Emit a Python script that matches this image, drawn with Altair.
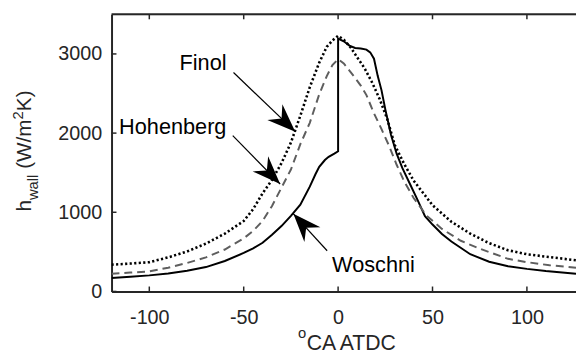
import math
import altair as alt
import pandas as pd

# ---------------- data ----------------
woschni_x = [-120, -110, -100, -90, -80, -70, -60, -50, -45, -40, -35, -30, -25, -20, -15, -12, -10, -7, -5, -2, 0,
             0, 3, 6, 9, 12, 15, 17, 19, 21, 23, 25, 28, 31, 34, 38, 42, 46, 50, 55, 60, 70, 80, 90, 100, 110, 126]
woschni_y = [171, 185, 203, 228, 262, 308, 385, 486, 545, 615, 715, 826, 955, 1096, 1324, 1480, 1573, 1660, 1700, 1740, 1770,
             3195, 3160, 3105, 3075, 3068, 3055, 3020, 2940, 2720, 2540, 2300, 1980, 1740, 1560, 1360, 1160, 950, 845, 725, 630, 470, 375, 318, 285, 258, 224]

hohenberg_x = [-120, -110, -100, -90, -80, -70, -60, -50, -45, -40, -35, -30, -25, -20, -15, -10, -6, -3, 0,
               3, 6, 9, 12, 15, 19, 23, 27, 31, 35, 40, 47, 55, 65, 75, 90, 100, 112, 126]
hohenberg_y = [224, 238, 253, 300, 360, 430, 530, 670, 765, 890, 1080, 1310, 1540, 1860, 2130, 2490, 2720, 2860, 2934,
               2880, 2790, 2697, 2600, 2480, 2250, 2050, 1840, 1600, 1390, 1180, 954, 790, 640, 540, 412, 370, 331, 299]

finol_x = [-120, -110, -100, -90, -80, -70, -60, -50, -45, -40, -35, -30, -25, -20, -15, -10, -6, -3, 0,
           3, 7, 10, 14, 18, 22, 26, 30, 35, 40, 50, 60, 70, 80, 90, 100, 110, 126]
finol_y = [338, 352, 370, 430, 505, 605, 730, 890, 1040, 1240, 1410, 1620, 1880, 2220, 2580, 2890, 3090, 3170, 3229,
           3180, 3071, 2960, 2820, 2640, 2430, 2180, 1850, 1610, 1400, 1090, 880, 730, 610, 520, 470, 440, 394]

x_ticks = [-100, -50, 0, 50, 100]
y_ticks = [0, 1000, 2000, 3000]

labels = ["Finol", "Hohenberg", "Woschni"]
label_x = [-84.0, -116.0, -3.2]
label_y = [2802, 1993, 249]

arrow_x0 = [-55.4, -55.8, -5.8]
arrow_y0 = [2765, 1968, 514]
arrow_x1 = [-22.7, -30.7, -23.7]
arrow_y1 = [2018, 1357, 980]

# ---------------- layout ----------------
X_MIN, X_MAX = -120, 126
Y_MIN, Y_MAX = 0, 3500
W, H = 471, 281
FONT = "Liberation Sans"
DARK = "#262626"

xs = alt.Scale(domain=[X_MIN, X_MAX], nice=False, zero=False)
ys = alt.Scale(domain=[Y_MIN, Y_MAX], nice=False, zero=False)

x_axis = alt.Axis(values=x_ticks, grid=False, ticks=False, tickSize=0, domain=True,
                  domainColor=DARK, domainWidth=2, labelFont=FONT, labelFontSize=20,
                  labelColor=DARK, labelPadding=16, title=None, labelFlush=False,
                  labelExpr="'' + datum.value")
y_axis = alt.Axis(values=y_ticks, grid=False, ticks=False, tickSize=0, domain=True,
                  domainColor=DARK, domainWidth=2, labelFont=FONT, labelFontSize=20,
                  labelColor=DARK, labelPadding=10, title=None, labelFlush=False,
                  labelExpr="'' + datum.value")


def X(field):
    return alt.X(field, scale=xs, axis=x_axis)


def Y(field):
    return alt.Y(field, scale=ys, axis=y_axis)


def series(xv, yv):
    return pd.DataFrame({"x": xv, "y": yv, "i": list(range(len(xv)))})


wos = alt.Chart(series(woschni_x, woschni_y)).mark_line(
    color="black", strokeWidth=2, clip=True
).encode(x=X("x:Q"), y=Y("y:Q"), order="i:Q")

hoh = alt.Chart(series(hohenberg_x, hohenberg_y)).mark_line(
    color="#5e5e5e", strokeWidth=2, strokeDash=[8, 5], clip=True
).encode(x=X("x:Q"), y=Y("y:Q"), order="i:Q")

fin = alt.Chart(series(finol_x, finol_y)).mark_line(
    color="black", strokeWidth=2.6, strokeDash=[2.2, 2.4], clip=True
).encode(x=X("x:Q"), y=Y("y:Q"), order="i:Q")

# frame top line and inward ticks
one = pd.DataFrame({"k": [0]})
top_line = alt.Chart(one).mark_rule(color=DARK, strokeWidth=2).encode(
    x=alt.value(0), x2=alt.value(W), y=alt.value(0)
)
xt = pd.DataFrame({"x": x_ticks})
yt = pd.DataFrame({"y": y_ticks})
bottom_ticks = alt.Chart(xt).mark_rule(color=DARK, strokeWidth=1.5).encode(
    x=X("x:Q"), y=alt.value(H), y2=alt.value(H - 5)
)
top_ticks = alt.Chart(xt).mark_rule(color=DARK, strokeWidth=1.5).encode(
    x=X("x:Q"), y=alt.value(0), y2=alt.value(5)
)
left_ticks = alt.Chart(yt).mark_rule(color=DARK, strokeWidth=1.5).encode(
    y=Y("y:Q"), x=alt.value(0), x2=alt.value(5)
)

# arrows
sx = W / (X_MAX - X_MIN)
sy = H / (Y_MAX - Y_MIN)
angles = []
for a, b, c, d in zip(arrow_x0, arrow_y0, arrow_x1, arrow_y1):
    dx = (c - a) * sx
    dy = -(d - b) * sy
    angles.append(math.degrees(math.atan2(dx, -dy)) % 360)

arr = pd.DataFrame({"x0": arrow_x0, "y0": arrow_y0, "x1": arrow_x1, "y1": arrow_y1, "angle": angles})
shafts = alt.Chart(arr).mark_rule(color="black", strokeWidth=1.2).encode(
    x=X("x0:Q"), y=Y("y0:Q"), x2="x1:Q", y2="y1:Q",
)
HEAD = "M0,0 L-1,2.6 L0,1.75 L1,2.6 Z"
heads = alt.Chart(arr).mark_point(
    shape=HEAD, filled=True, size=484, color="black", opacity=1, strokeWidth=0
).encode(
    x=X("x1:Q"), y=Y("y1:Q"),
    angle=alt.Angle("angle:Q", scale=None),
)

lab = pd.DataFrame({"t": labels, "x": label_x, "y": label_y})
label_text = alt.Chart(lab).mark_text(
    font=FONT, fontSize=22, align="left", baseline="alphabetic", color="black"
).encode(x=X("x:Q"), y=Y("y:Q"), text="t:N")


# axis titles composed of pieces (sub/superscripts)
def txt(s, px, py, size, angle=0):
    return alt.Chart(one).mark_text(
        text=s, font=FONT, fontSize=size, align="left", baseline="alphabetic",
        color=DARK, angle=angle
    ).encode(x=alt.value(px), y=alt.value(py))


x_title = [
    txt("o", 189, 328, 15),
    txt("CA ATDC", 198, 340, 21.5),
]

BASE_X = 31 - 113
start = 212 - 12
main, sub = 21, 15
# (text, size, baseline offset, leading gap in em of main size)
pieces = [("h", main, 0, 0), ("wall", sub, 7.5, 0), ("(W/m", main, 0, 0.278), ("2", sub, -8, 0), ("K)", main, 0, 0)]
widths = {"h": 0.556, "wall": 1.722, "(W/m": 2.388, "2": 0.556, "K)": 1.0}
y_title = []
pos = start
for s, size, off, gap in pieces:
    pos -= gap * main
    y_title.append(txt(s, BASE_X + off, pos, size, angle=270))
    pos -= widths[s] * size

chart = alt.layer(
    wos, hoh, fin, top_line, bottom_ticks, top_ticks, left_ticks,
    shafts, heads, label_text, *x_title, *y_title
).properties(
    width=W, height=H,
    autosize=alt.AutoSizeParams(type="none"),
    padding={"left": 105, "top": 4, "right": 0, "bottom": 62},
).configure_view(stroke=None).configure(background="white")

chart.save("out.html", embed_options={"renderer": "svg", "actions": False})
